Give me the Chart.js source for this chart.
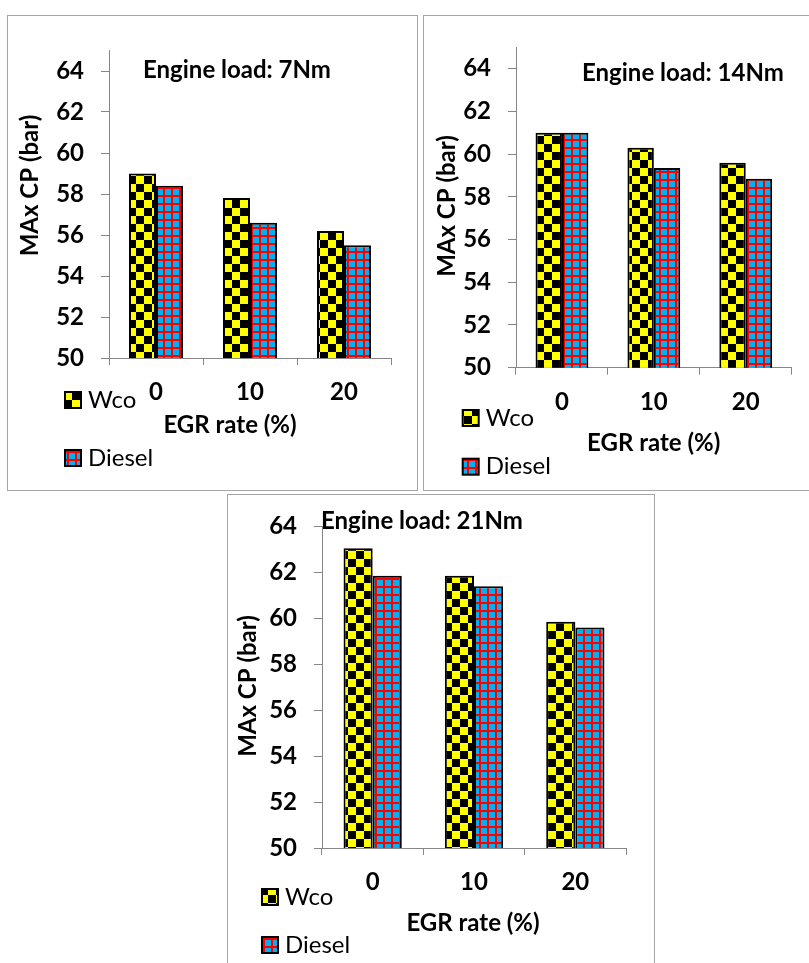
<!DOCTYPE html>
<html>
<head>
<meta charset="utf-8">
<script src="https://cdn.jsdelivr.net/npm/chart.js@4.4.0/dist/chart.umd.min.js"></script>
<style>
  body { margin: 0; background: #fff; width: 809px; height: 963px; position: relative; overflow: hidden; }
  .panel { position: absolute; border: 1px solid #a6a6a6; box-sizing: border-box; background: #fff; }
  .panel canvas { display: block; }
</style>
</head>
<body>
<div class="panel" style="left:7px;top:15px;width:411px;height:476px"><canvas id="c1" width="409" height="474"></canvas></div>
<div class="panel" style="left:423px;top:15px;width:390px;height:476px"><canvas id="c2" width="388" height="474"></canvas></div>
<div class="panel" style="left:227px;top:494px;width:428px;height:480px"><canvas id="c3" width="426" height="478"></canvas></div>
<script>
// data
const categories = ["0", "10", "20"];
const yTicks = [50, 52, 54, 56, 58, 60, 62, 64];
const seriesNames = ["Wco", "Diesel"];
const wco7 = [59.0, 57.8, 56.2];
const diesel7 = [58.4, 56.6, 55.5];
const wco14 = [61.0, 60.3, 59.6];
const diesel14 = [61.0, 59.35, 58.85];
const wco21 = [63.05, 61.85, 59.85];
const diesel21 = [61.85, 61.4, 59.6];
const titles = ["Engine load: 7Nm", "Engine load: 14Nm", "Engine load: 21Nm"];
const xTitle = "EGR rate (%)";
const yTitle = "MAx CP (bar)";

Chart.defaults.font.family = "Lato";

// hachures facon Excel
function checkerPattern(ctx) {
  const c = document.createElement("canvas");
  c.width = 16; c.height = 16;
  const g = c.getContext("2d");
  g.fillStyle = "#ffff00"; g.fillRect(0, 0, 16, 16);
  g.fillStyle = "#000"; g.fillRect(8, 0, 8, 8); g.fillRect(0, 8, 8, 8);
  return ctx.createPattern(c, "repeat");
}
function gridPattern(ctx) {
  const c = document.createElement("canvas");
  c.width = 8; c.height = 8;
  const g = c.getContext("2d");
  g.fillStyle = "#00b0f0"; g.fillRect(0, 0, 8, 8);
  g.fillStyle = "#ff0000"; g.fillRect(3, 0, 2, 8); g.fillRect(0, 3, 8, 2);
  return ctx.createPattern(c, "repeat");
}

// titres, legende
const panelText = {
  id: "panelText",
  afterDraw(chart, args, o) {
    const g = chart.ctx;
    g.save();
    g.fillStyle = "#000";
    g.textBaseline = "middle";
    g.font = "bold 24px Lato";
    g.textAlign = "left";
    g.fillText(o.title, o.titleX, o.titleY);
    g.textAlign = "center";
    g.fillText(xTitle, o.xTitleX, o.xTitleY);
    g.save();
    g.translate(o.yTitleX, o.yTitleY);
    g.rotate(-Math.PI / 2);
    g.fillText(yTitle, 0, 0);
    g.restore();
    g.font = "24px Lato";
    g.textAlign = "left";
    chart.data.datasets.forEach(function(ds, i) {
      const y = o.legendY[i];
      g.fillStyle = ds.backgroundColor;
      g.fillRect(o.legendX, y - 8, 16, 16);
      g.strokeStyle = "#000";
      g.lineWidth = 2;
      g.strokeRect(o.legendX, y - 8, 16, 16);
      g.fillStyle = "#000";
      g.fillText(ds.label, o.legendX + 23, y);
    });
    g.restore();
  }
};

function makeChart(id, wco, diesel, box, txt) {
  const canvas = document.getElementById(id);
  const ctx = canvas.getContext("2d");
  const tickFont = { family: "Lato", weight: "bold", size: 24 };
  return new Chart(ctx, {
    type: "bar",
    data: {
      labels: categories,
      datasets: [
        { label: seriesNames[0], data: wco, backgroundColor: checkerPattern(ctx), borderColor: "#000", borderWidth: 2, borderSkipped: false },
        { label: seriesNames[1], data: diesel, backgroundColor: gridPattern(ctx), borderColor: "#000", borderWidth: 2, borderSkipped: false }
      ]
    },
    options: {
      responsive: false,
      animation: false,
      devicePixelRatio: 1,
      layout: { padding: { left: 0, top: box.top, right: canvas.width - box.right, bottom: 0 } },
      datasets: { bar: { barPercentage: 1, categoryPercentage: 0.575 } },
      plugins: { legend: { display: false }, tooltip: { enabled: false }, panelText: txt },
      scales: {
        x: {
          grid: { offset: true, drawOnChartArea: false, tickLength: 7, color: "#868686" },
          border: { color: "#868686" },
          ticks: { font: tickFont, color: "#000", padding: 13 },
          afterFit: function(s) { s.height = canvas.height - box.bottom; }
        },
        y: {
          min: 50,
          max: box.max,
          afterBuildTicks: function(s) { s.ticks = yTicks.map(function(v) { return { value: v }; }); },
          grid: { drawOnChartArea: false, tickLength: 8, color: "#868686" },
          border: { color: "#868686" },
          ticks: { font: tickFont, color: "#000", padding: 17 },
          afterFit: function(s) { s.width = box.left; }
        }
      }
    },
    plugins: [panelText]
  });
}

makeChart("c1", wco7, diesel7,
  { left: 101, right: 383, top: 34.5, bottom: 342, max: 65 },
  { title: titles[0], titleX: 135, titleY: 54, xTitleX: 222, xTitleY: 409, yTitleX: 22, yTitleY: 169.5, legendX: 57, legendY: [384, 442] });

makeChart("c2", wco14, diesel14,
  { left: 92, right: 367.7, top: 28.1, bottom: 351.7, max: 65 },
  { title: titles[1], titleX: 158, titleY: 57, xTitleX: 229.7, xTitleY: 427, yTitleX: 23, yTitleY: 190, legendX: 38.7, legendY: [402, 450.7] });

makeChart("c3", wco21, diesel21,
  { left: 94, right: 398, top: 28.3, bottom: 353, max: 64 },
  { title: titles[2], titleX: 93, titleY: 26.7, xTitleX: 245, xTitleY: 428, yTitleX: 20, yTitleY: 191, legendX: 34, legendY: [402, 450] });
</script>
</body>
</html>
